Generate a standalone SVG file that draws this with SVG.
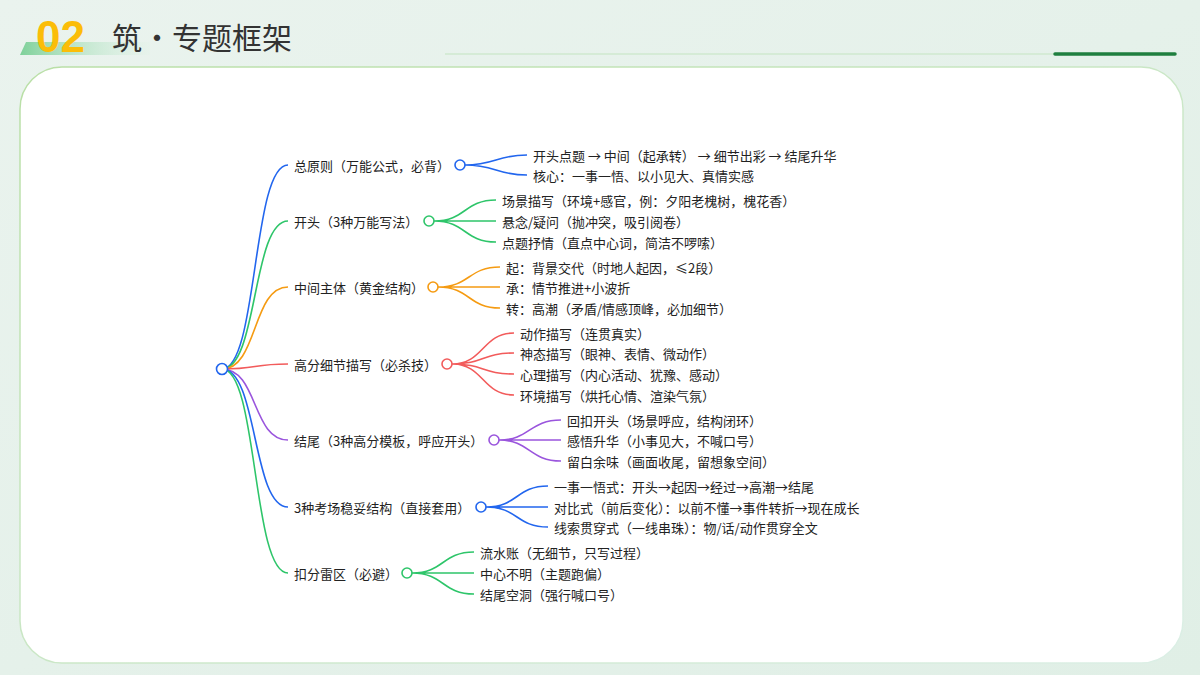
<svg xmlns="http://www.w3.org/2000/svg" width="1200" height="675" viewBox="0 0 1200 675">
<defs>
<linearGradient id="bg" x1="0" y1="0" x2="1" y2="1"><stop offset="0" stop-color="#eaf3ee"/><stop offset="1" stop-color="#e0efe6"/></linearGradient>
<linearGradient id="bar" x1="0" y1="0" x2="1" y2="0"><stop offset="0" stop-color="#7fd19a"/><stop offset="1" stop-color="#e3f3e8" stop-opacity="0.3"/></linearGradient>
<linearGradient id="cardb" x1="0" y1="0" x2="1" y2="1"><stop offset="0" stop-color="#b9dfa6"/><stop offset="1" stop-color="#dcefe6"/></linearGradient>
</defs>
<style>
text{font-family:"Noto Sans CJK SC","Noto Sans",sans-serif;font-size:13px;fill:#222;dominant-baseline:central}
.c path{fill:none;stroke-width:1.6}
.b{stroke:#2266ee}.g{stroke:#2ec56a}.o{stroke:#f59b12}.r{stroke:#f25b5b}.p{stroke:#9a55dd}
circle{fill:#fff;stroke-width:1.6}
</style>
<rect width="1200" height="675" fill="url(#bg)"/>
<polygon points="26,42 150,42 150,55 20,55" fill="url(#bar)"/>
<text x="36" y="36" style="font-family:'Liberation Sans',sans-serif;font-size:44px;font-weight:bold;fill:#fbbd08">02</text>
<text x="112" y="36" style="font-size:30px;fill:#333">筑·专题框架</text>
<line x1="445" y1="54" x2="1055" y2="54" stroke="#cfe8cf" stroke-width="1.5"/>
<line x1="1055" y1="54" x2="1175" y2="54" stroke="#1f7f3f" stroke-width="3.5" stroke-linecap="round"/>
<rect x="20" y="67" width="1163" height="596" rx="42" fill="#fff" stroke="url(#cardb)" stroke-width="1.5"/>
<g id="connectors" class="c">
<path class="b" d="M222,369 C258,369 252,165 288,165"/>
<path class="g" d="M222,369 C258,369 252,221 288,221"/>
<path class="o" d="M222,369 C258,369 252,287 288,287"/>
<path class="r" d="M222,369 C258,369 252,364 288,364"/>
<path class="p" d="M222,369 C258,369 252,440 288,440"/>
<path class="b" d="M222,369 C258,369 252,507 288,507"/>
<path class="g" d="M222,369 C258,369 252,573 288,573"/>
<path class="b" d="M465,165 C495,165 497,155 527,155 M465,165 C495,165 497,175 527,175"/>
<path class="g" d="M434,221 C466,221 464,200 496,200 M434,221 L496,221 M434,221 C466,221 464,242 496,242"/>
<path class="o" d="M438,287 C470,287 468,267 500,267 M438,287 L500,287 M438,287 C470,287 468,308 500,308"/>
<path class="r" d="M452,364 C484,364 482,333 514,333 M452,364 C484,364 482,353 514,353 M452,364 C484,364 482,374 514,374 M452,364 C484,364 482,395 514,395"/>
<path class="p" d="M499,440 C530,440 529,420 561,420 M499,440 L561,440 M499,440 C530,440 529,461 561,461"/>
<path class="b" d="M486,507 C518,507 516,486 548,486 M486,507 L548,507 M486,507 C518,507 516,527 548,527"/>
<path class="g" d="M412,573 C444,573 442,552 474,552 M412,573 L474,573 M412,573 C444,573 442,594 474,594"/>
</g>
<g id="root"><circle class="b" cx="222" cy="369" r="5.5"/></g>
<g id="n1"><text x="294" y="165">总原则（万能公式，必背）</text><circle class="b" cx="460" cy="165" r="5"/>
<text x="533" y="155">开头点题 → 中间（起承转） → 细节出彩 → 结尾升华</text><text x="533" y="175">核心：一事一悟、以小见大、真情实感</text></g>
<g id="n2"><text x="294" y="221">开头（3种万能写法）</text><circle class="g" cx="429" cy="221" r="5"/>
<text x="502" y="200">场景描写（环境+感官，例：夕阳老槐树，槐花香）</text><text x="502" y="221">悬念/疑问（抛冲突，吸引阅卷）</text><text x="502" y="242">点题抒情（直点中心词，简洁不啰嗦）</text></g>
<g id="n3"><text x="294" y="287">中间主体（黄金结构）</text><circle class="o" cx="433" cy="287" r="5"/>
<text x="506" y="267">起：背景交代（时地人起因，≤2段）</text><text x="506" y="287">承：情节推进+小波折</text><text x="506" y="308">转：高潮（矛盾/情感顶峰，必加细节）</text></g>
<g id="n4"><text x="294" y="364">高分细节描写（必杀技）</text><circle class="r" cx="447" cy="364" r="5"/>
<text x="520" y="333">动作描写（连贯真实）</text><text x="520" y="353">神态描写（眼神、表情、微动作）</text><text x="520" y="374">心理描写（内心活动、犹豫、感动）</text><text x="520" y="395">环境描写（烘托心情、渲染气氛）</text></g>
<g id="n5"><text x="294" y="440">结尾（3种高分模板，呼应开头）</text><circle class="p" cx="494" cy="440" r="5"/>
<text x="567" y="420">回扣开头（场景呼应，结构闭环）</text><text x="567" y="440">感悟升华（小事见大，不喊口号）</text><text x="567" y="461">留白余味（画面收尾，留想象空间）</text></g>
<g id="n6"><text x="294" y="507">3种考场稳妥结构（直接套用）</text><circle class="b" cx="481" cy="507" r="5"/>
<text x="554" y="486">一事一悟式：开头→起因→经过→高潮→结尾</text><text x="554" y="507">对比式（前后变化）：以前不懂→事件转折→现在成长</text><text x="554" y="527">线索贯穿式（一线串珠）：物/话/动作贯穿全文</text></g>
<g id="n7"><text x="294" y="573">扣分雷区（必避）</text><circle class="g" cx="407" cy="573" r="5"/>
<text x="480" y="552">流水账（无细节，只写过程）</text><text x="480" y="573">中心不明（主题跑偏）</text><text x="480" y="594">结尾空洞（强行喊口号）</text></g>
</svg>
